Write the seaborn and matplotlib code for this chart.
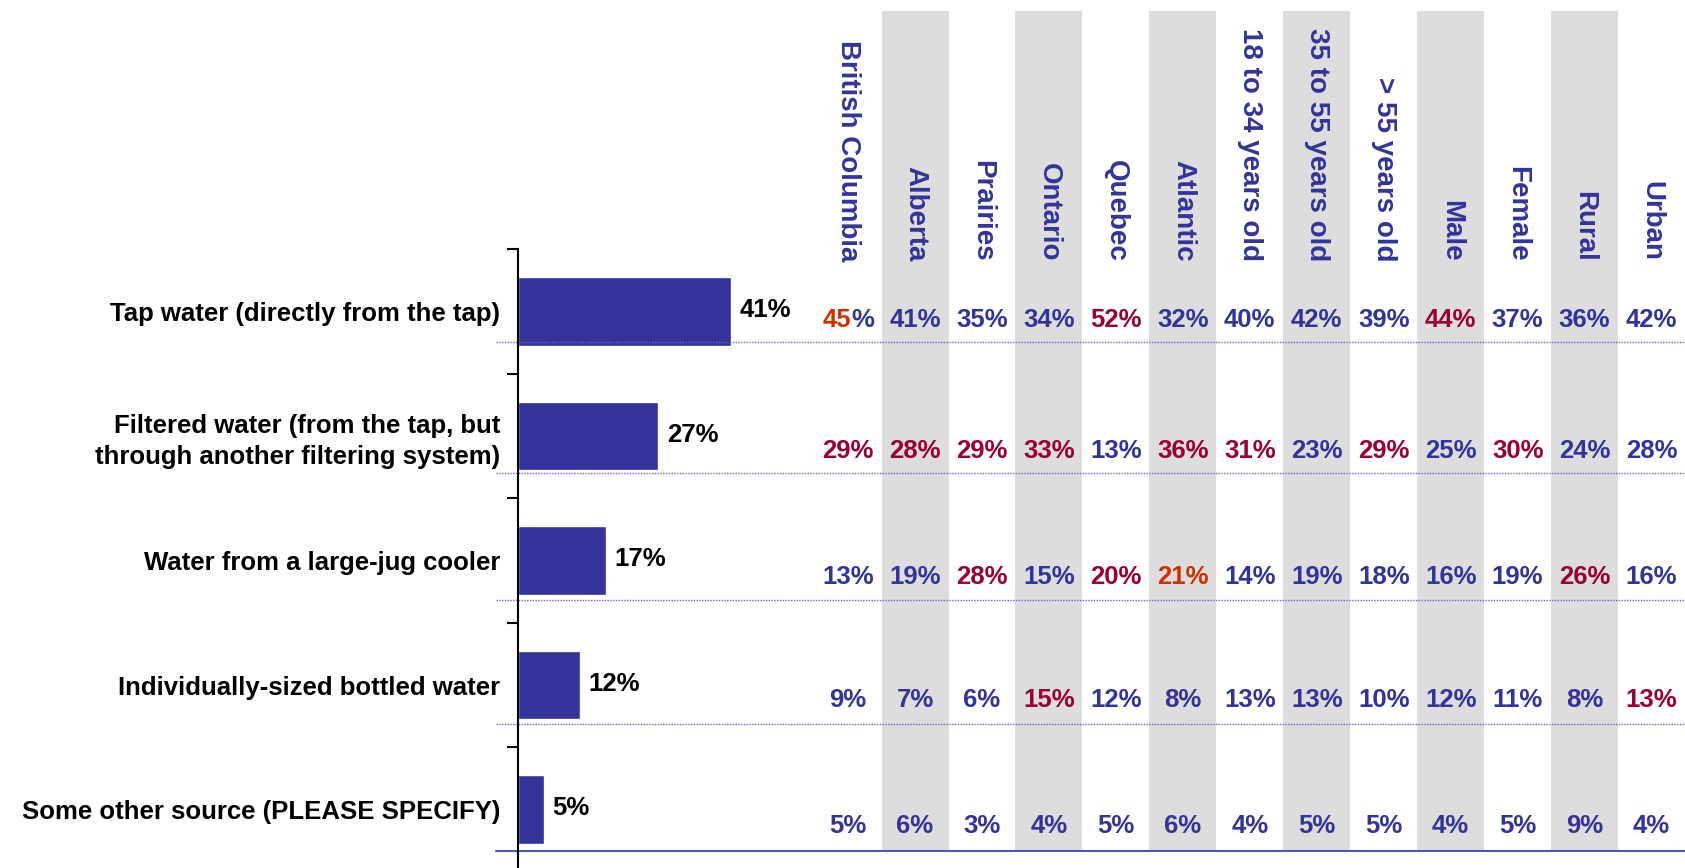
import matplotlib
matplotlib.use('Agg')
import matplotlib.pyplot as plt
import seaborn as sns
import pandas as pd

sources = ['Tap water (directly from the tap)',
           'Filtered water (from the tap, but\nthrough another filtering system)',
           'Water from a large-jug cooler',
           'Individually-sized bottled water',
           'Some other source (PLEASE SPECIFY)']
totals = [41, 27, 17, 12, 5]

groups = ['British Columbia', 'Alberta', 'Prairies', 'Ontario', 'Quebec', 'Atlantic',
          '18 to 34 years old', '35 to 55 years old', '> 55 years old',
          'Male', 'Female', 'Rural', 'Urban']
tap = [45, 41, 35, 34, 52, 32, 40, 42, 39, 44, 37, 36, 42]
filtered = [29, 28, 29, 33, 13, 36, 31, 23, 29, 25, 30, 24, 28]
jug = [13, 19, 28, 15, 20, 21, 14, 19, 18, 16, 19, 26, 16]
bottled = [9, 7, 6, 15, 12, 8, 13, 13, 10, 12, 11, 8, 13]
other = [5, 6, 3, 4, 5, 6, 4, 5, 5, 4, 5, 9, 4]

# b = blue, r = significantly higher (red), o = orange, ob = orange digits / blue %
tap_col = ['ob', 'b', 'b', 'b', 'r', 'b', 'b', 'b', 'b', 'r', 'b', 'b', 'b']
filtered_col = ['r', 'r', 'r', 'r', 'b', 'r', 'r', 'b', 'r', 'b', 'r', 'b', 'b']
jug_col = ['b', 'b', 'r', 'b', 'r', 'o', 'b', 'b', 'b', 'b', 'b', 'r', 'b']
bottled_col = ['b', 'b', 'b', 'r', 'b', 'b', 'b', 'b', 'b', 'b', 'b', 'b', 'r']
other_col = ['b'] * 13

rows = [tap, filtered, jug, bottled, other]
row_cols = [tap_col, filtered_col, jug_col, bottled_col, other_col]

BLUE = '#333399'
RED = '#990033'
ORANGE = '#CC3300'
cmap = {'b': BLUE, 'r': RED, 'o': ORANGE}

sns.set_style('white')
plt.rcParams['font.family'] = ['Liberation Sans', 'DejaVu Sans']

W, H = 1685, 868
fig = plt.figure(figsize=(W / 100, H / 100), dpi=100)

# table axes (grey bands, headers, values)
tab = fig.add_axes([814.6 / W, -4 / H, 1 - 814.6 / W, (872 - 11) / H])
tab.set_xlim(-0.5, 12.5)
tab.set_ylim(4.5, -0.5 - 238 / 124.6)
tab.axis('off')
tab.set_zorder(0)

odd = [j for j in range(len(groups)) if j % 2 == 1]
tab.bar(odd, height=4.33 + 2.41, bottom=-2.41, width=1.0, color='#DDDDDD', linewidth=0)

for j, g in enumerate(groups):
    tab.text(j, -0.40, g, rotation=270, rotation_mode='anchor', ha='right', va='center',
             color=BLUE, fontsize=20, fontweight='bold')

row_y = [0.07, 1.12, 2.13, 3.12, 4.13]
for i, (vals, cols) in enumerate(zip(rows, row_cols)):
    for j, (v, c) in enumerate(zip(vals, cols)):
        if c == 'ob':
            t = tab.text(j, row_y[i], f'{v}%', ha='center', va='center', alpha=0,
                         fontsize=18.5, fontweight='bold')
            fig.canvas.draw()
            bb = t.get_window_extent().transformed(tab.transData.inverted())
            tab.text(bb.x0, row_y[i], f'{v}', ha='left', va='center', color=ORANGE,
                     fontsize=18.5, fontweight='bold')
            tab.text(bb.x1, row_y[i], '%', ha='right', va='center', color=BLUE,
                     fontsize=18.5, fontweight='bold')
        else:
            tab.text(j, row_y[i], f'{v}%', ha='center', va='center', color=cmap[c],
                     fontsize=18.5, fontweight='bold')

# bar axes
ax = fig.add_axes([518 / W, -4 / H, 1 - 518 / W, 623 / H])
ax.set_zorder(1)
ax.patch.set_visible(False)
df = pd.DataFrame({'source': sources, 'pct': totals})
sns.barplot(data=df, x='pct', y='source', orient='h', color=BLUE, saturation=1,
            width=0.55, ax=ax)
ax.set_xlim(0, 1167 / 5.2)
ax.set_ylim(4.5, -0.5)
ax.set_xlabel('')
ax.set_ylabel('')
ax.set_xticks([])
for s in ['top', 'right', 'bottom']:
    ax.spines[s].set_visible(False)
ax.spines['left'].set_color('black')
ax.spines['left'].set_linewidth(1.5)
ax.set_yticks([k - 0.5 for k in range(len(sources) + 1)], minor=True)
ax.tick_params(axis='y', which='minor', length=8, width=1.5, color='black', direction='out', left=True)
ax.tick_params(axis='y', which='major', length=0, pad=13, labelsize=18.5)
for lab in ax.get_yticklabels():
    lab.set_fontweight('bold')
    lab.set_color('black')
    lab.set_linespacing(1.35)

for i, v in enumerate(totals):
    ax.text(v + 1.6, i - 0.01, f'{v}%', ha='left', va='center', fontsize=18.5,
            fontweight='bold', color='black')

x0 = -22 / 1167
line_y = [0.25, 1.30, 2.32, 3.31]
for y in line_y:
    ax.axhline(y, xmin=x0, xmax=1, color='#6666CC', linestyle=(0, (1, 1)),
               linewidth=1, clip_on=False)
ax.axhline(4.33, xmin=x0, xmax=1, color='#5555AA', linewidth=1.5, clip_on=False)

fig.savefig('out.png', dpi=100)
